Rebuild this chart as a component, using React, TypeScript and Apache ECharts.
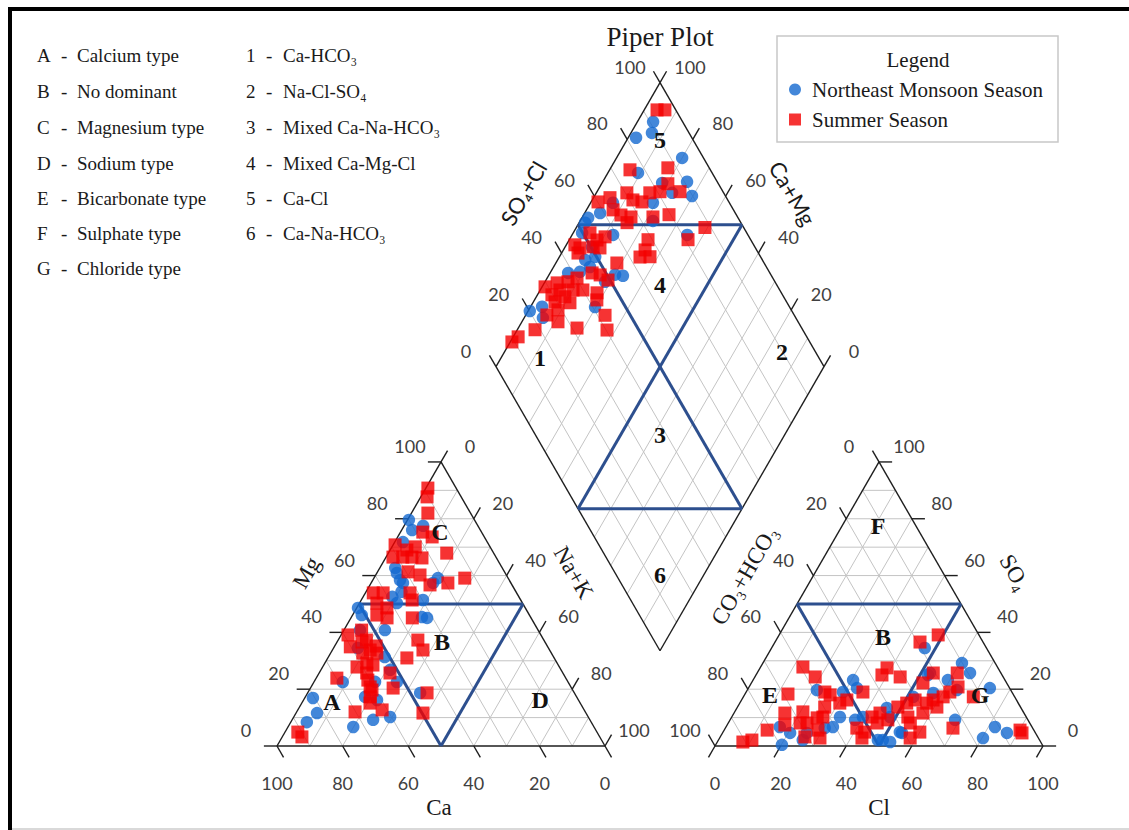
import React, { useEffect, useRef } from "react";
import * as echarts from "echarts";

const SERIES_NE = "Northeast Monsoon Season";
const SERIES_SUMMER = "Summer Season";

const TICK_VALUES = [0, 20, 40, 60, 80, 100];
const GRID_VALUES = [10, 20, 30, 40, 50, 60, 70, 80, 90];

// Cation triangle: [Ca %, Mg %]  (Na+K = 100 - Ca - Mg)
const cationNE = [
  [20.0, 79.6], [20.8, 76.0], [16.7, 77.5], [25.7, 71.8], [32.6, 62.7], [33.0, 60.9], [21.4, 59.1],
  [23.7, 57.4], [32.9, 57.4], [38.6, 52.5], [38.3, 50.3], [29.8, 51.4], [33.1, 45.4], [31.7, 45.1],
  [51.0, 48.6], [51.1, 46.1], [46.7, 40.8], [54.3, 40.8], [58.1, 34.5], [51.5, 31.3], [68.7, 22.5],
  [52.1, 26.8], [52.2, 22.5], [80.6, 16.9], [82.0, 11.6], [86.7, 8.4], [64.5, 17.3], [61.4, 16.2],
  [73.4, 6.7], [66.1, 9.2], [60.4, 10.2], [47.0, 18.7], [33.3, 58.4], [34.9, 54.3], [58.8, 22.6],
];
const cationSummer = [
  [8.6, 90.8], [10.4, 87.7], [13.0, 82.0], [17.9, 75.3], [15.9, 73.6], [14.3, 67.9], [28.6, 70.8],
  [25.9, 69.0], [22.8, 70.1], [31.4, 66.5], [28.4, 66.5], [25.6, 66.5], [22.7, 66.2], [29.4, 61.3],
  [26.3, 60.2], [25.0, 56.7], [19.2, 57.4], [13.2, 59.1], [43.7, 53.9], [40.7, 53.9], [32.5, 53.9],
  [33.1, 51.4], [44.4, 50.3], [42.2, 48.6], [46.5, 46.1], [43.9, 45.1], [36.2, 45.1], [58.8, 39.1],
  [60.2, 34.9], [55.8, 36.6], [57.5, 32.7], [54.7, 33.8], [53.2, 32.7], [61.7, 27.8], [58.0, 29.2],
  [56.5, 28.5], [38.4, 37.3], [38.6, 33.8], [44.9, 31.0], [69.8, 23.9], [59.8, 25.7], [60.7, 23.2],
  [61.2, 20.8], [62.9, 17.3], [64.1, 15.1], [52.7, 25.7], [54.4, 20.4], [44.9, 18.7], [61.6, 12.7],
  [70.2, 12.0], [49.7, 11.6], [91.2, 4.9], [90.8, 3.2], [52.2, 35.2], [61.2, 19.7], [53.8, 40.8],
  [54.1, 37.3],
];

// Anion triangle: [Cl %, SO4 %]  (CO3+HCO3 = 100 - Cl - SO4)
const anionNE = [
  [46.7, 34.5], [60.7, 29.2], [64.9, 25.7], [52.7, 25.7], [73.6, 20.4], [30.5, 23.2], [33.1, 20.4],
  [21.2, 19.7], [29.5, 19.0], [16.4, 6.7], [20.6, 4.6], [20.2, 0.4], [25.7, 2.1], [25.7, 4.6],
  [32.6, 6.7], [33.0, 10.2], [38.1, 9.2], [40.0, 10.2], [45.7, 13.4], [48.3, 10.2], [50.1, 2.1],
  [52.7, 1.4], [54.7, 4.6], [68.6, 9.2], [80.3, 2.8], [82.0, 6.7], [86.7, 4.6], [57.2, 18.7],
  [59.4, 23.2], [63.9, 19.7], [51.8, 17.3], [52.4, 25.0], [53.9, 4.9], [48.6, 2.1], [30.3, 6.3],
];
const anionSummer = [
  [48.5, 39.1], [44.2, 36.6], [12.9, 27.8], [18.4, 24.3], [13.1, 18.3], [38.4, 25.0], [38.7, 27.5],
  [44.3, 24.3], [24.0, 19.0], [26.1, 18.0], [35.6, 19.0], [52.3, 22.2], [53.7, 25.7], [61.0, 25.7],
  [63.7, 20.8], [15.5, 11.6], [17.6, 7.4], [20.8, 12.0], [24.0, 8.1], [21.9, 8.1], [26.2, 9.9],
  [27.8, 10.2], [26.6, 13.7], [30.5, 15.1], [32.1, 16.2], [13.1, 5.6], [7.8, 1.4], [10.2, 2.1],
  [25.8, 3.2], [30.6, 2.8], [40.1, 6.3], [43.4, 2.8], [42.8, 10.2], [44.5, 11.6], [45.4, 8.1],
  [48.1, 9.2], [50.9, 15.1], [52.9, 16.2], [53.7, 10.2], [55.5, 8.1], [60.0, 4.9], [58.1, 2.8],
  [57.0, 15.1], [58.4, 16.2], [60.8, 13.7], [60.9, 17.3], [62.1, 19.0], [69.4, 6.3], [70.1, 17.3],
  [90.2, 5.6], [91.3, 4.6], [57.6, 11.6], [48.9, 13.7], [28.6, 5.6], [43.2, 4.9],
];

// Diamond: [SO4+Cl %, Ca+Mg %]
const diamondNE = [
  [91.0, 95.2], [88.7, 93.6], [83.0, 97.6], [93.5, 80.0], [77.4, 90.8], [83.0, 81.7], [90.8, 74.3],
  [89.8, 70.3], [84.3, 76.9], [76.7, 81.0], [64.5, 93.2], [58.8, 95.3], [54.3, 98.1], [52.5, 98.2],
  [73.5, 77.8], [81.5, 64.9], [58.9, 87.5], [49.8, 97.3], [49.6, 89.1], [46.0, 91.6], [46.2, 88.9],
  [38.5, 94.5], [42.3, 91.1], [52.5, 79.9], [54.7, 77.3], [48.2, 81.7], [40.7, 80.3], [20.1, 99.5],
  [24.6, 96.5], [22.9, 94.3], [50.3, 91.8],
];
const diamondSummer = [
  [94.3, 96.1], [96.7, 93.7], [75.5, 93.8], [87.4, 82.6], [84.6, 79.8], [86.9, 74.7], [60.1, 97.9],
  [64.5, 95.0], [70.5, 90.7], [71.1, 87.6], [77.5, 83.7], [80.8, 80.8], [73.5, 84.5], [63.3, 91.9],
  [64.8, 88.6], [67.5, 85.2], [74.2, 78.5], [79.5, 74.0], [65.3, 85.4], [88.2, 60.8], [80.9, 63.8],
  [68.7, 76.0], [45.5, 97.4], [52.2, 94.9], [53.1, 91.5], [56.1, 89.6], [50.7, 91.5], [46.5, 95.3],
  [52.6, 89.2], [45.0, 95.0], [66.0, 75.1], [63.2, 75.4], [66.3, 72.4], [55.1, 81.4], [45.8, 87.2],
  [47.9, 84.4], [40.3, 90.9], [33.4, 96.1], [29.0, 99.1], [33.0, 94.0], [37.0, 90.0], [40.0, 87.0],
  [43.8, 82.2], [29.7, 95.6], [33.3, 91.3], [29.4, 93.4], [33.8, 88.7], [42.5, 81.0], [28.9, 91.1],
  [24.6, 93.6], [26.8, 89.0], [31.5, 82.1], [42.3, 75.8], [40.3, 72.6], [18.4, 94.6], [12.0, 98.5],
  [9.2, 99.5], [49.4, 81.1], [36.9, 93.0],
];

const hydroLetters = ["A", "B", "C", "D", "E", "F", "G"];
const hydroTypes = ["Calcium type", "No dominant", "Magnesium type", "Sodium type", "Bicarbonate type", "Sulphate type", "Chloride type"];
const faciesNumbers = ["1", "2", "3", "4", "5", "6"];
const faciesTypes = ["Ca-HCO\u2083", "Na-Cl-SO\u2084", "Mixed Ca-Na-HCO\u2083", "Mixed Ca-Mg-Cl", "Ca-Cl", "Ca-Na-HCO\u2083"];

// zone labels: [label, Ca, Mg] / [label, Cl, SO4] / [label, SO4+Cl, Ca+Mg]
const cationZones: [string, number, number][] = [["A", 75.5, 15.5], ["B", 31.4, 36.6], ["C", 12.7, 75.3], ["D", 11.7, 16.2]];
const anionZones: [string, number, number][] = [["E", 7.8, 18.0], ["B", 32.0, 38.4], ["F", 11.0, 77.5], ["G", 71.8, 18.0]];
const diamondZones: [string, number, number][] = [["1", 15.0, 88.2], ["2", 89.8, 15.4], ["3", 38.0, 38.0], ["4", 64.4, 64.4], ["5", 89.9, 89.9], ["6", 13.3, 13.3]];

// ---------- geometry ----------
const W = 1129;
const HGT = 830;
const PX = 3.28; // pixels per percent
const OX = 277; // pixel x of cation Ca=100 corner
const OY = 746; // pixel y of triangle bases
const H = Math.sqrt(3) / 2;
const GAP = 110 / PX;

const ct = (ca: number, mg: number): number[] => [100 - ca - mg + mg / 2, mg * H];
const an = (cl: number, so4: number): number[] => [100 + GAP + cl + so4 / 2, so4 * H];
const dm = (a: number, c: number): number[] => {
  const n = 100 - c;
  return [50 + GAP / 2 + 0.5 * (a + n), H * (GAP + 100) + H * (a - n)];
};

type Seg = number[];
const seg = (p: number[], q: number[]): Seg => [p[0], p[1], q[0], q[1]];
const tick = (p: number[], d: number[], len: number): Seg => [p[0], p[1], p[0] + d[0] * len, p[1] + d[1] * len];

type Label = { p: number[]; dx: number; dy: number; text: string; font: string; color: string; rot?: number };

export default function App() {
  const ref = useRef<HTMLDivElement>(null);

  useEffect(() => {
    if (!ref.current) return;
    const chart = echarts.init(ref.current, undefined, { renderer: "svg" });

    const gridSegs: Seg[] = [];
    for (const k of GRID_VALUES) {
      gridSegs.push(seg(ct(100 - k, k), ct(0, k)), seg(ct(k, 0), ct(k, 100 - k)), seg(ct(100 - k, 0), ct(0, 100 - k)));
      gridSegs.push(seg(an(0, k), an(100 - k, k)), seg(an(k, 0), an(k, 100 - k)), seg(an(100 - k, 0), an(0, 100 - k)));
      gridSegs.push(seg(dm(k, 100), dm(k, 0)), seg(dm(0, k), dm(100, k)));
    }

    const TL = 4;
    const edgeSegs: Seg[] = [
      seg(ct(100, 0), ct(0, 0)), seg(ct(0, 0), ct(0, 100)), seg(ct(0, 100), ct(100, 0)),
      seg(an(0, 0), an(100, 0)), seg(an(100, 0), an(0, 100)), seg(an(0, 100), an(0, 0)),
      seg(dm(0, 100), dm(100, 100)), seg(dm(100, 100), dm(100, 0)), seg(dm(100, 0), dm(0, 0)), seg(dm(0, 0), dm(0, 100)),
    ];
    for (const v of TICK_VALUES) {
      edgeSegs.push(tick(ct(100 - v, v), [-1, 0], TL));
      edgeSegs.push(tick(ct(v, 0), [0.5, -H], TL));
      edgeSegs.push(tick(ct(0, 100 - v), [0.5, H], TL));
      edgeSegs.push(tick(an(v, 0), [-0.5, -H], TL));
      edgeSegs.push(tick(an(0, 100 - v), [-0.5, H], TL));
      edgeSegs.push(tick(an(100 - v, v), [1, 0], TL));
      edgeSegs.push(tick(dm(v, 100), [-0.5, H], TL));
      edgeSegs.push(tick(dm(100, v), [0.5, H], TL));
    }

    const zoneSegs: Seg[] = [
      seg(ct(50, 50), ct(0, 50)), seg(ct(50, 50), ct(50, 0)), seg(ct(0, 50), ct(50, 0)),
      seg(an(0, 50), an(50, 50)), seg(an(0, 50), an(50, 0)), seg(an(50, 50), an(50, 0)),
      seg(dm(50, 100), dm(100, 50)), seg(dm(50, 100), dm(50, 0)), seg(dm(100, 50), dm(0, 50)), seg(dm(0, 50), dm(50, 0)),
    ];

    const tickFont = '18px Lato';
    const tickColor = "#404040";
    const serifName = '23px "Liberation Serif"';
    const sansName = '22px Lato';
    const zoneFont = 'bold 24px "Liberation Serif"';
    const dark = "#1a1a1a";
    const R60 = Math.PI / 3;

    const labels: Label[] = [];
    for (const v of TICK_VALUES) {
      const t = String(v);
      labels.push({ p: ct(100 - v, v), dx: -31, dy: -16, text: t, font: tickFont, color: tickColor });
      labels.push({ p: ct(0, 100 - v), dx: 29, dy: -16, text: t, font: tickFont, color: tickColor });
      labels.push({ p: ct(v, 0), dx: 0, dy: 37, text: t, font: tickFont, color: tickColor });
      labels.push({ p: an(0, 100 - v), dx: -30, dy: -16, text: t, font: tickFont, color: tickColor });
      labels.push({ p: an(100 - v, v), dx: 30, dy: -16, text: t, font: tickFont, color: tickColor });
      labels.push({ p: an(v, 0), dx: 0, dy: 37, text: t, font: tickFont, color: tickColor });
      labels.push({ p: dm(v, 100), dx: -30, dy: -16, text: t, font: tickFont, color: tickColor });
      labels.push({ p: dm(100, v), dx: 30, dy: -16, text: t, font: tickFont, color: tickColor });
    }
    labels.push({ p: ct(40, 60), dx: -69, dy: -3, text: "Mg", font: serifName, color: dark, rot: R60 });
    labels.push({ p: ct(0, 60), dx: 67, dy: -3, text: "Na+K", font: serifName, color: dark, rot: -R60 });
    labels.push({ p: ct(50, 0), dx: -2, dy: 61, text: "Ca", font: serifName, color: dark });
    labels.push({ p: an(0, 60), dx: -69, dy: 0, text: "CO\u2083+HCO\u2083", font: serifName, color: dark, rot: R60 });
    labels.push({ p: an(40, 60), dx: 70, dy: -3, text: "SO\u2084", font: serifName, color: dark, rot: -R60 });
    labels.push({ p: an(50, 0), dx: 0, dy: 61, text: "Cl", font: serifName, color: dark });
    labels.push({ p: dm(60, 100), dx: -71, dy: -3, text: "SO\u2084+Cl", font: sansName, color: dark, rot: R60 });
    labels.push({ p: dm(100, 60), dx: 67, dy: -3, text: "Ca+Mg", font: sansName, color: dark, rot: -R60 });
    labels.push({ p: dm(100, 100), dx: 0, dy: -46, text: "Piper Plot", font: '27px "Liberation Serif"', color: dark });
    for (const [t, a, b] of cationZones) labels.push({ p: ct(a, b), dx: 0, dy: 0, text: t, font: zoneFont, color: "#111" });
    for (const [t, a, b] of anionZones) labels.push({ p: an(a, b), dx: 0, dy: 0, text: t, font: zoneFont, color: "#111" });
    for (const [t, a, b] of diamondZones) labels.push({ p: dm(a, b), dx: 0, dy: 0, text: t, font: zoneFont, color: "#111" });

    const segSeries = (segs: Seg[], color: string, width: number, z: number) => ({
      type: "custom",
      coordinateSystem: "cartesian2d",
      silent: true,
      z,
      data: segs,
      encode: { x: [0, 2], y: [1, 3] },
      renderItem: (_params: any, api: any) => {
        const p1 = api.coord([api.value(0), api.value(1)]);
        const p2 = api.coord([api.value(2), api.value(3)]);
        return {
          type: "line",
          shape: { x1: p1[0], y1: p1[1], x2: p2[0], y2: p2[1] },
          style: { stroke: color, lineWidth: width, fill: null },
        };
      },
    });

    const neData = [
      ...cationNE.map(([a, b]) => ct(a, b)),
      ...anionNE.map(([a, b]) => an(a, b)),
      ...diamondNE.map(([a, b]) => dm(a, b)),
    ];
    const summerData = [
      ...cationSummer.map(([a, b]) => ct(a, b)),
      ...anionSummer.map(([a, b]) => an(a, b)),
      ...diamondSummer.map(([a, b]) => dm(a, b)),
    ];

    const leftTexts: any[] = [];
    const rowY = [55, 91, 127, 163, 198, 233, 268];
    const textFont = '19px "Liberation Serif"';
    const mkText = (x: number, y: number, text: string) => ({
      type: "text",
      x,
      y,
      style: { text, font: textFont, fill: dark, textAlign: "left", textVerticalAlign: "middle", align: "left", verticalAlign: "middle" },
    });
    hydroLetters.forEach((l, i) => {
      leftTexts.push(mkText(37, rowY[i], l), mkText(61, rowY[i], "-"), mkText(77, rowY[i], hydroTypes[i]));
    });
    faciesNumbers.forEach((l, i) => {
      leftTexts.push(mkText(246, rowY[i], l), mkText(266, rowY[i], "-"), mkText(283, rowY[i], faciesTypes[i]));
    });

    chart.setOption({
      animation: false,
      backgroundColor: "#ffffff",
      grid: { left: 0, top: 0, width: W, height: HGT },
      xAxis: { type: "value", min: -OX / PX, max: (W - OX) / PX, show: false, splitLine: { show: false } },
      yAxis: { type: "value", min: -(HGT - OY) / PX, max: OY / PX, show: false, splitLine: { show: false } },
      legend: {
        data: [SERIES_NE, SERIES_SUMMER],
        orient: "vertical",
        left: 789,
        top: 79,
        padding: 0,
        itemWidth: 12,
        itemHeight: 12,
        itemGap: 9,
        selectedMode: false,
        textStyle: { fontFamily: "Liberation Serif", fontSize: 21, color: dark, lineHeight: 20, padding: [0, 0, 0, 6] },
      },
      graphic: [
        { type: "rect", left: 8, top: 7, shape: { width: 1121, height: 4 }, style: { fill: "#000" } },
        { type: "rect", left: 8, top: 7, shape: { width: 4, height: 823 }, style: { fill: "#000" } },
        { type: "rect", left: 12, top: 828, shape: { width: 1117, height: 2 }, style: { fill: "#d9d9d9" } },
        { type: "rect", x: 777, y: 36, shape: { width: 281, height: 106 }, style: { fill: "rgba(0,0,0,0)", stroke: "#c8c8c8", lineWidth: 1.5 } },
        {
          type: "text",
          x: 918,
          y: 60,
          style: { text: "Legend", font: '21px "Liberation Serif"', fill: dark, textAlign: "center", textVerticalAlign: "middle", align: "center", verticalAlign: "middle" },
        },
        ...leftTexts,
      ],
      series: [
        segSeries(gridSegs, "#c4c4c4", 1, 1),
        segSeries(edgeSegs, "#1e1e1e", 1.4, 2),
        segSeries(zoneSegs, "#2d4f8e", 3, 3),
        {
          type: "scatter",
          name: SERIES_NE,
          symbol: "circle",
          symbolSize: 12.5,
          z: 4,
          itemStyle: { color: "#1469cf" },
          data: neData,
        },
        {
          type: "scatter",
          name: SERIES_SUMMER,
          symbol: "rect",
          symbolSize: 13,
          z: 5,
          itemStyle: { color: "#f40000" },
          data: summerData,
        },
        {
          type: "custom",
          coordinateSystem: "cartesian2d",
          silent: true,
          z: 6,
          data: labels.map((l) => [l.p[0], l.p[1]]),
          renderItem: (params: any, api: any) => {
            const l = labels[params.dataIndex];
            const p = api.coord([api.value(0), api.value(1)]);
            return {
              type: "text",
              x: p[0] + l.dx,
              y: p[1] + l.dy,
              rotation: l.rot || 0,
              style: {
                text: l.text,
                font: l.font,
                fill: l.color,
                textAlign: "center",
                textVerticalAlign: "middle",
                align: "center",
                verticalAlign: "middle",
              },
            };
          },
        },
      ],
    });

    return () => chart.dispose();
  }, []);

  return <div ref={ref} style={{ position: "absolute", left: 0, top: 0, width: W, height: HGT }} />;
}
